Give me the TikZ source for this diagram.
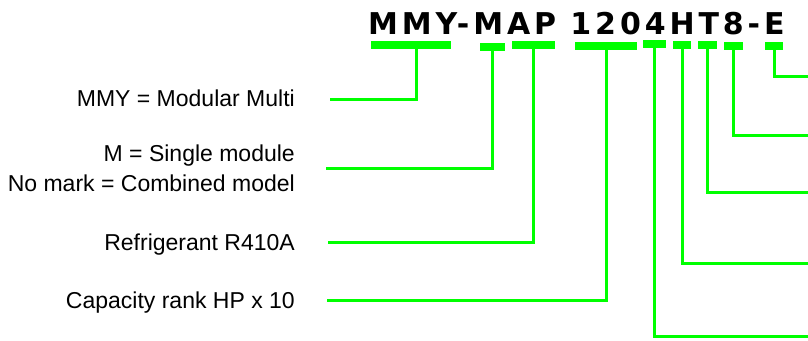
\documentclass[tikz,border=0pt]{standalone}
\usepackage{fontspec}
\setmainfont{Liberation Sans}
\newfontfamily\titlefont[LetterSpace=13]{DejaVu Sans}
\definecolor{lime}{RGB}{0,255,0}
\begin{document}
\begin{tikzpicture}[x=1pt,y=-1pt,
  bar/.style={fill=lime, draw=none, inner sep=0pt, minimum height=8pt, anchor=north west},
  conn/.style={draw=lime, line width=3pt},
  lbl/.style={font=\fontsize{23}{30}\selectfont, inner sep=0pt, text=black}]
\useasboundingbox (0,0) rectangle (808,340);
% title
\node[font=\titlefont\bfseries\fontsize{30}{30}\selectfont, anchor=base west, inner sep=0pt] (title) at (368,34) {MMY-MAP 1204HT8-E};
% bars
\node[bar, minimum width=80pt] (b1) at (371,41) {};
\node[bar, minimum width=25pt] (b2) at (480,43) {};
\node[bar, minimum width=43pt] (b3) at (512,41) {};
\node[bar, minimum width=62pt] (b4) at (575,42) {};
\node[bar, minimum width=23pt] (b5) at (643,40) {};
\node[bar, minimum width=18pt] (b6) at (673,41) {};
\node[bar, minimum width=19pt] (b7) at (698,41) {};
\node[bar, minimum width=19pt] (b8) at (724,42) {};
\node[bar, minimum width=18pt] (b9) at (765,42) {};
% labels
\node[lbl, anchor=base east] (t1) at (295,106) {MMY = Modular Multi};
\node[lbl, anchor=east, align=right] (t2) at (295,168.6) {M = Single module\\No mark = Combined model};
\node[lbl, anchor=base east] (t3) at (295,250) {Refrigerant R410A};
\node[lbl, anchor=base east] (t4) at (295,308) {Capacity rank HP x 10};
% line ends
\coordinate (e1) at (330,99);
\coordinate (e2) at (326,168);
\coordinate (e3) at (328,242);
\coordinate (e4) at (327,300);
\coordinate (e5) at (808,336);
\coordinate (e6) at (808,263);
\coordinate (e7) at (808,192);
\coordinate (e8) at (808,135);
\coordinate (e9) at (808,76);
% connectors
\draw[conn] ([xshift=5pt]b1.south) |- (e1);
\draw[conn] (b2.south) |- (e2);
\draw[conn] (b3.south) |- (e3);
\draw[conn] (b4.south) |- (e4);
\draw[conn] (b5.south) |- (e5);
\draw[conn] (b6.south) |- (e6);
\draw[conn] (b7.south) |- (e7);
\draw[conn] (b8.south) |- (e8);
\draw[conn] (b9.south) |- (e9);
\end{tikzpicture}
\end{document}
